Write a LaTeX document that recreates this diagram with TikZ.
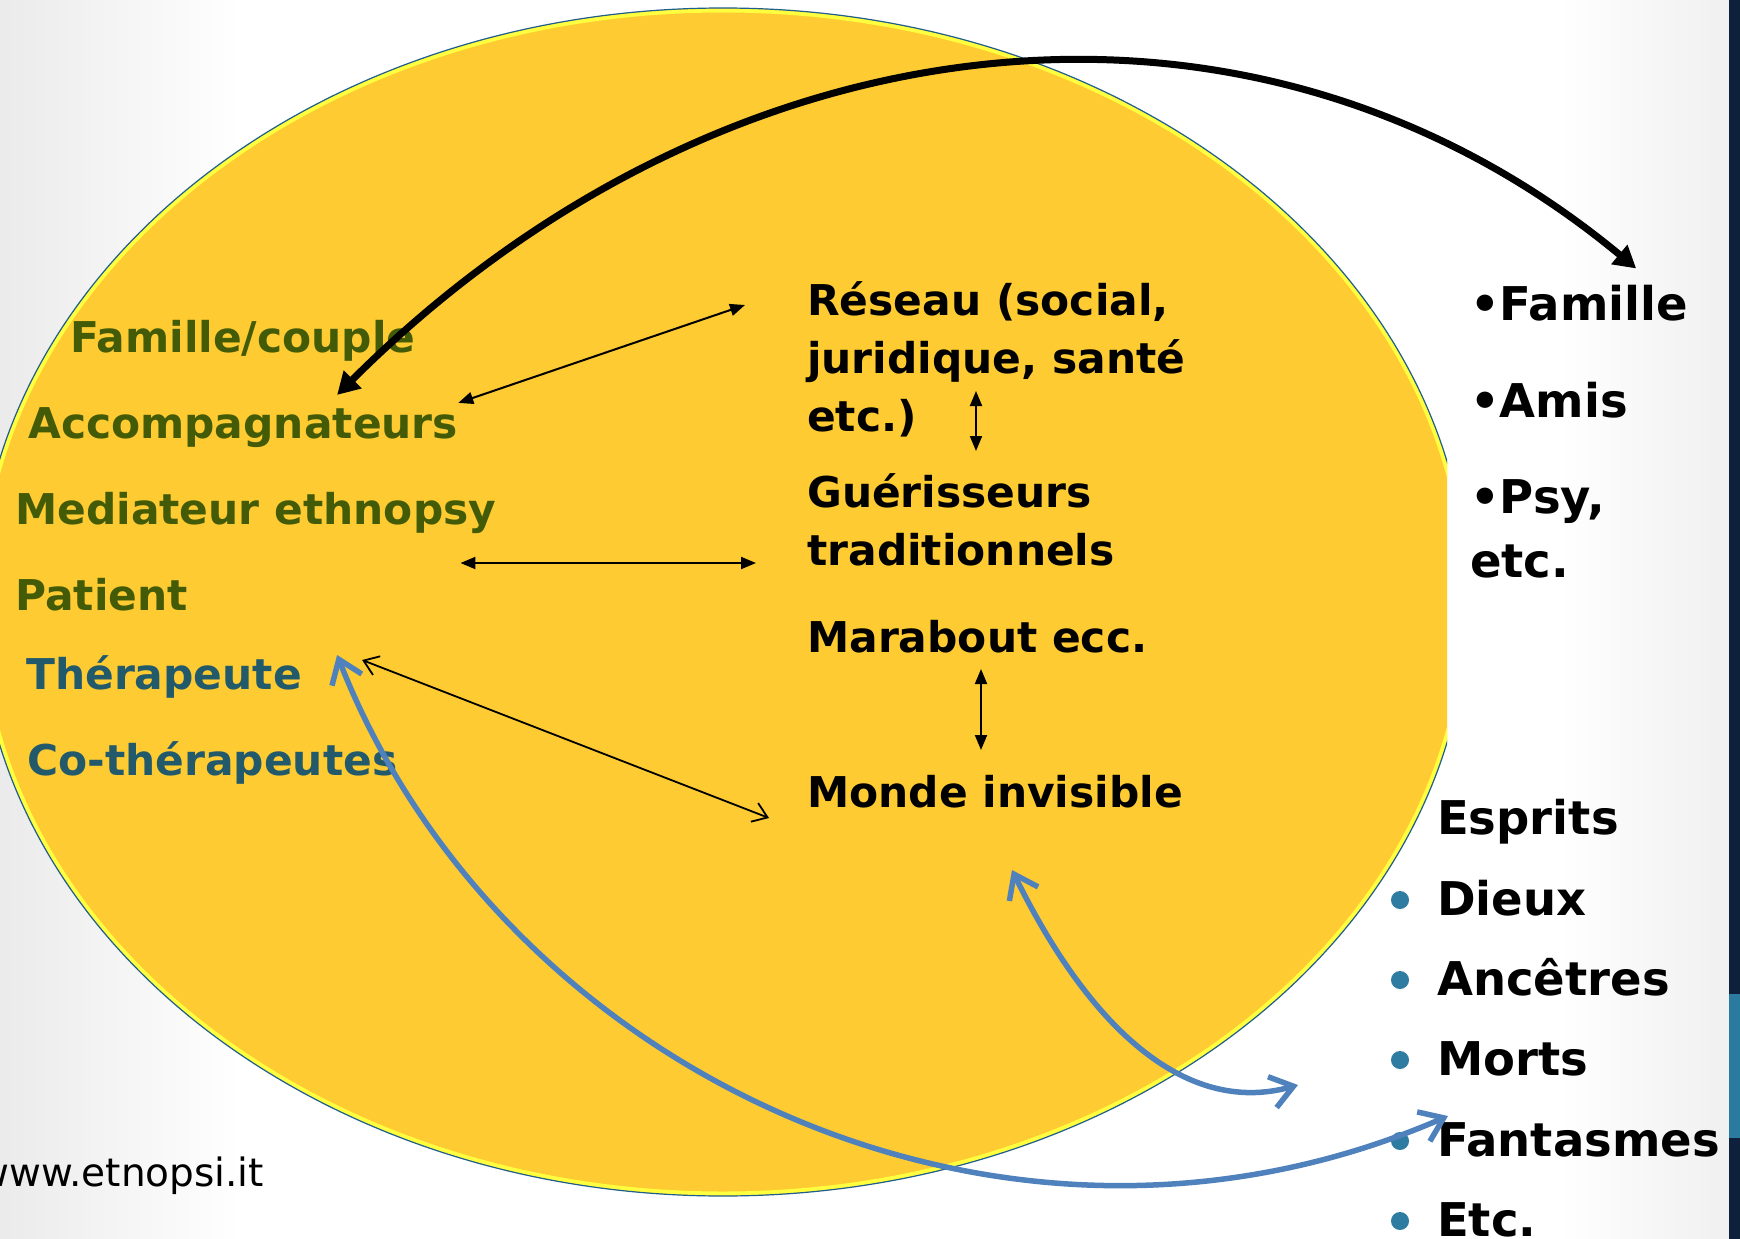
\documentclass[tikz,border=0pt]{standalone}
\usepackage{fontspec}
\setmainfont{DejaVu Sans}
\usetikzlibrary{positioning,arrows.meta}

\definecolor{sun}{HTML}{FECB32}
\definecolor{rimyellow}{HTML}{FFFF40}
\definecolor{rimblue}{HTML}{1F5F8B}
\definecolor{grntxt}{HTML}{435B06}
\definecolor{tealtxt}{HTML}{225A6B}
\definecolor{arrblue}{HTML}{4F81BD}
\definecolor{dotblue}{HTML}{2E7CA1}
\definecolor{navybar}{HTML}{0E203B}
\definecolor{tealbar}{HTML}{2B7BA1}

\tikzset{
  lbl/.style={inner sep=0pt, anchor=base west, align=left,
    font=\fontsize{42.4}{58}\selectfont\bfseries},
  grnlbl/.style={lbl, text=grntxt},
  teallbl/.style={lbl, text=tealtxt},
  listlbl/.style={lbl, font=\fontsize{46.5}{64}\selectfont\bfseries},
  thinarr/.style={line width=2pt,
    arrows={Triangle[length=15pt,width=12pt]-Triangle[length=15pt,width=12pt]}},
  openarr/.style={line width=1.8pt,
    arrows={Straight Barb[length=14pt,width=20pt]-Straight Barb[length=14pt,width=20pt]}},
  bigarr/.style={line width=7pt,
    arrows={Triangle[length=22pt,width=24pt]-Triangle[length=22pt,width=24pt]}},
  bluearr/.style={arrblue, line width=5.5pt, line cap=round,
    arrows={Straight Barb[length=22pt,width=32pt]-Straight Barb[length=22pt,width=32pt]}},
}

\begin{document}
\begin{tikzpicture}[x=1pt, y=-1pt]
  \useasboundingbox (0,0) rectangle (1740,1239);

  % Background
  \fill[white] (0,0) rectangle (1740,1239);
  \shade[left color=black!8, right color=white] (0,0) rectangle (240,1239);
  \shade[left color=white, right color=black!6] (1560,0) rectangle (1729,1239);
  \fill[navybar] (1729,0) rectangle (1740,1239);
  \fill[tealbar] (1729,994) rectangle (1740,1138);

  % Ellipse
  \begin{scope}
    \clip (-40,-20) rectangle (1447,1260);
    \fill[sun] (723,602) ellipse (745 and 594);
    \draw[rimyellow, line width=4pt] (723,602) ellipse (742.5 and 591.5);
    \draw[rimblue, line width=1.2pt] (723,602) ellipse (745 and 594);
  \end{scope}

  % Define nodes
  \node[grnlbl] (fam) at (70,352) {Famille/couple};
  \node[grnlbl, below=86pt of fam.base west, anchor=base west, xshift=-42pt] (acc) {Accompagnateurs};
  \node[grnlbl, below=86pt of acc.base west, anchor=base west, xshift=-13pt] (med) {Mediateur ethnopsy};
  \node[grnlbl, below=86pt of med.base west, anchor=base west] (pat) {Patient};
  \node[teallbl, below=79pt of pat.base west, anchor=base west, xshift=11pt] (ther) {Thérapeute};
  \node[teallbl, below=86pt of ther.base west, anchor=base west, xshift=1pt] (coth) {Co-thérapeutes};

  % (base of a multi-line node = its last line)
  \node[lbl] (res) at (807,431) {Réseau (social,\\juridique, santé\\etc.)};
  \node[lbl, below=134pt of res.base west, anchor=base west] (gue) {Guérisseurs\\traditionnels};
  \node[lbl, below=87pt of gue.base west, anchor=base west] (mar) {Marabout ecc.};
  \node[lbl, below=155pt of mar.base west, anchor=base west] (mon) {Monde invisible};

  \node[listlbl] (famR) at (1470,320) {•Famille};
  \node[listlbl, below=97pt of famR.base west, anchor=base west] (ami) {•Amis};
  \node[listlbl, below=160pt of ami.base west, anchor=base west] (psy) {•Psy,\\etc.};

  \node[listlbl] (esp) at (1437,834) {Esprits};
  \node[listlbl, below=81pt of esp.base west, anchor=base west] (dieux) {Dieux};
  \node[listlbl, below=80pt of dieux.base west, anchor=base west] (anc) {Ancêtres};
  \node[listlbl, below=80pt of anc.base west, anchor=base west] (morts) {Morts};
  \node[listlbl, below=81pt of morts.base west, anchor=base west] (fant) {Fantasmes};
  \node[listlbl, below=80pt of fant.base west, anchor=base west] (etcR) {Etc.};

  \node[inner sep=0pt, anchor=base west, font=\fontsize{39}{47}\selectfont] (web) at (-23,1186) {www.etnopsi.it};

  % Bullets
  \fill[dotblue] ([xshift=-37pt,yshift=15pt]dieux.base west) circle (9pt);
  \fill[dotblue] ([xshift=-37pt,yshift=15pt]anc.base west) circle (9pt);
  \fill[dotblue] ([xshift=-37pt,yshift=15pt]morts.base west) circle (9pt);
  \fill[dotblue] ([xshift=-37pt,yshift=15pt]fant.base west) circle (9pt);
  \fill[dotblue] ([xshift=-37pt,yshift=15pt]etcR.base west) circle (9pt);

  % Connect the nodes
  \draw[thinarr] ([yshift=4pt]acc.north east) -- ([xshift=-62pt,yshift=126pt]res.base west);
  \draw[thinarr] ([xshift=-36pt,yshift=-39pt]med.base east) -- ([xshift=-51pt,yshift=2pt]gue.base west);
  \draw[thinarr] ([xshift=169pt,yshift=40pt]res.base west) -- ([xshift=169pt,yshift=114pt]gue.base west);
  \draw[thinarr] ([xshift=174pt,yshift=-17pt]mar.base west) -- ([xshift=174pt,yshift=57pt]mon.base west);
  \draw[openarr] ([xshift=60pt,yshift=29pt]ther.base east) -- ([xshift=-38pt,yshift=-11pt]mon.base west);
  \draw[bigarr] ([xshift=94pt,yshift=12pt]acc.north) .. controls (723,10) and (1251,-51) .. ([xshift=57pt,yshift=16pt]famR.north);
  \draw[bluearr] ([xshift=35pt,yshift=34pt]ther.base east) .. controls (500,1070) and (1000,1310) .. ([xshift=11pt,yshift=40pt]fant.base west);
  \draw[bluearr] ([xshift=205pt,yshift=-63pt]mon.base west) .. controls (1087,1023) and (1183,1117) .. ([xshift=-139pt,yshift=-10pt]morts.base west);

\end{tikzpicture}
\end{document}
